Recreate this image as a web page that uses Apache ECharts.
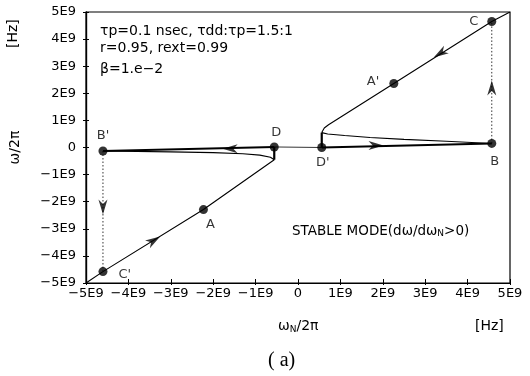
<!DOCTYPE html>
<html>
<head>
<meta charset="utf-8">
<script src="https://cdn.jsdelivr.net/npm/echarts@6/dist/echarts.min.js"></script>
<style>
  html, body { margin: 0; padding: 0; background: #fff; }
  #chart { width: 530px; height: 376px; }
</style>
</head>
<body>
<div id="chart"></div>
<script>
// axis ticks (Hz)
const axisMin = -5e9;
const axisMax = 5e9;
const axisStep = 1e9;

// stable branches along the diagonal
const lowerBranch = [[-5.0e9, -5.0e9], [-4.6e9, -4.58e9], [-2.23e9, -2.29e9], [-0.56e9, -0.45e9]];
const upperBranch = [[5.0e9, 5.0e9], [4.57e9, 4.65e9], [2.26e9, 2.36e9], [0.72e9, 0.84e9], [0.62e9, 0.72e9], [0.56e9, 0.55e9]];

// curved returns towards B' and B
const lowerReturn = [[-0.56e9, -0.45e9], [-0.65e9, -0.36e9], [-0.9e9, -0.28e9], [-1.3e9, -0.23e9], [-2.0e9, -0.19e9], [-3.0e9, -0.16e9], [-4.6e9, -0.13e9]];
const upperReturn = [[0.56e9, 0.55e9], [0.7e9, 0.5e9], [1.1e9, 0.44e9], [1.7e9, 0.37e9], [2.5e9, 0.3e9], [3.5e9, 0.23e9], [4.57e9, 0.15e9]];

// jump paths
const leftJump = [[-4.6e9, -0.13e9], [-0.56e9, 0.02e9]];
const rightJump = [[0.56e9, 0.0], [4.57e9, 0.15e9]];
const middleLink = [[-0.56e9, 0.02e9], [0.56e9, 0.0]];
const dStem = [[-0.56e9, 0.02e9], [-0.56e9, -0.45e9]];
const dPrimeStem = [[0.56e9, 0.0], [0.56e9, 0.55e9]];
const leftDrop = [[-4.6e9, -0.13e9], [-4.6e9, -4.58e9]];
const rightRise = [[4.57e9, 0.15e9], [4.57e9, 4.65e9]];

// labelled points
const pointNames = ["B'", "D", "D'", "B", "C", "A'", "A", "C'"];
const pointX = [-4.6e9, -0.56e9, 0.56e9, 4.57e9, 4.57e9, 2.26e9, -2.23e9, -4.6e9];
const pointY = [-0.13e9, 0.02e9, 0.0, 0.15e9, 4.65e9, 2.36e9, -2.29e9, -4.58e9];

// direction arrows: x, y, heading (degrees, screen)
const arrowX = [-3.4e9, 3.35e9, -1.6e9, 1.84e9, -4.6e9, 4.57e9];
const arrowY = [-3.43e9, 3.47e9, -0.05e9, 0.07e9, -2.2e9, 2.2e9];
const arrowHeading = [32, 212, 180, 0, 270, 90];

const FONT = "DejaVu Sans";
const INK = "#000";

function tickLabel(value) {
  if (value === 0) return "0";
  const n = Math.round(value / 1e9);
  return (n < 0 ? "\u2212" : "") + Math.abs(n) + "E9";
}

const labelPlacement = {
  "B'": { position: "top", distance: 4, offset: [0, 0] },
  "D": { position: "top", distance: 3, offset: [2, 0] },
  "D'": { position: "bottom", distance: 4, offset: [1, 0] },
  "B": { position: "bottom", distance: 7, offset: [3, 0] },
  "C": { position: "left", distance: 9, offset: [0, 0] },
  "A'": { position: "left", distance: 10, offset: [0, -2] },
  "A": { position: "bottom", distance: 4, offset: [7, 0] },
  "C'": { position: "right", distance: 9, offset: [2, 3] }
};

function lineSeries(data, width, type, color) {
  return {
    type: "line",
    data: data,
    showSymbol: false,
    silent: true,
    smooth: false,
    lineStyle: { color: color || INK, width: width, type: type || "solid" },
    z: 2
  };
}

const points = pointNames.map((name, i) => {
  const p = labelPlacement[name];
  return {
    value: [pointX[i], pointY[i]],
    name: name,
    label: { show: true, position: p.position, distance: p.distance, offset: p.offset }
  };
});

const arrows = arrowX.map((x, i) => ({
  value: [x, arrowY[i]],
  symbolRotate: arrowHeading[i] - 90
}));

const baseAxis = {
  type: "value",
  min: axisMin,
  max: axisMax,
  interval: axisStep,
  splitLine: { show: false },
  axisLine: { show: true, onZero: false, lineStyle: { color: INK, width: 1.2 } }
};

const chart = echarts.init(document.getElementById("chart"), null, { renderer: "canvas" });

chart.setOption({
  animation: false,
  backgroundColor: "#fff",
  textStyle: { fontFamily: FONT, color: INK },
  grid: { left: 80, right: 20, top: 12, bottom: 93, show: true, borderColor: INK, borderWidth: 1.2, backgroundColor: "transparent" },
  xAxis: [
    Object.assign({}, baseAxis, {
      position: "bottom",
      axisTick: { show: true, inside: true, length: 4, lineStyle: { color: INK } },
      axisLabel: { formatter: tickLabel, color: INK, fontFamily: FONT, fontSize: 13, margin: 4 }
    }),
    Object.assign({}, baseAxis, {
      position: "bottom",
      axisTick: { show: true, inside: false, length: 2, lineStyle: { color: INK } },
      axisLabel: { show: false }
    })
  ],
  yAxis: [
    Object.assign({}, baseAxis, {
      position: "left",
      name: "\u03c9/2\u03c0",
      nameLocation: "middle",
      nameGap: 64,
      nameTextStyle: { fontFamily: FONT, fontSize: 14, color: INK },
      axisTick: { show: true, inside: true, length: 3, lineStyle: { color: INK } },
      axisLabel: { formatter: tickLabel, color: INK, fontFamily: FONT, fontSize: 13, margin: 10 }
    }),
    Object.assign({}, baseAxis, {
      position: "left",
      axisTick: { show: true, inside: false, length: 3, lineStyle: { color: INK } },
      axisLabel: { show: false }
    })
  ],
  series: [
    lineSeries(lowerBranch, 1.1),
    lineSeries(upperBranch, 1.1),
    lineSeries(lowerReturn, 1.1),
    lineSeries(upperReturn, 1.1),
    lineSeries(leftJump, 2),
    lineSeries(rightJump, 2),
    lineSeries(middleLink, 0.8),
    lineSeries(dStem, 2.2),
    lineSeries(dPrimeStem, 2.2),
    lineSeries(leftDrop, 1, [1.5, 2], "#333"),
    lineSeries(rightRise, 1, [1.5, 2], "#333"),
    {
      type: "scatter",
      data: arrows,
      symbol: "path://M0,0 L5,14 L0,10 L-5,14 Z",
      symbolSize: [9, 15],
      itemStyle: { color: INK },
      silent: true,
      z: 4
    },
    {
      type: "scatter",
      data: points,
      symbol: "circle",
      symbolSize: 9,
      itemStyle: { color: INK },
      label: { color: INK, fontFamily: FONT, fontSize: 13, formatter: "{b}" },
      silent: true,
      z: 5
    }
  ],
  graphic: [
    { type: "text", left: 100, top: 24, style: { text: "\u03c4p=0.1 nsec, \u03c4dd:\u03c4p=1.5:1", font: "14px " + FONT, fill: INK } },
    { type: "text", left: 100, top: 41, style: { text: "r=0.95, rext=0.99", font: "14px " + FONT, fill: INK } },
    { type: "text", left: 100, top: 62, style: { text: "\u03b2=1.e\u22122", font: "14px " + FONT, fill: INK } },
    {
      type: "text", left: 292, top: 224,
      style: {
        text: "{a|STABLE MODE(d\u03c9/d\u03c9}{s|N}{a|>0)}",
        fill: INK,
        rich: {
          a: { fontFamily: FONT, fontSize: 13.5, fill: INK, verticalAlign: "bottom" },
          s: { fontFamily: FONT, fontSize: 9, fill: INK, padding: [7, 0, 0, 0] }
        }
      }
    },
    {
      type: "text", left: 278, top: 319,
      style: {
        text: "{a|\u03c9}{s|N}{a|/2\u03c0}",
        fill: INK,
        rich: {
          a: { fontFamily: FONT, fontSize: 14, fill: INK },
          s: { fontFamily: FONT, fontSize: 9, fill: INK, padding: [7, 0, 0, 0] }
        }
      }
    },
    { type: "text", left: 475, top: 319, style: { text: "[Hz]", font: "14px " + FONT, fill: INK } },
    { type: "text", x: 6, y: 48, rotation: Math.PI / 2, style: { text: "[Hz]", font: "14px " + FONT, fill: INK } },
    { type: "text", left: 268, top: 351, style: { text: "( a)", font: "20px Liberation Serif", fill: INK } }
  ]
});
</script>
</body>
</html>
